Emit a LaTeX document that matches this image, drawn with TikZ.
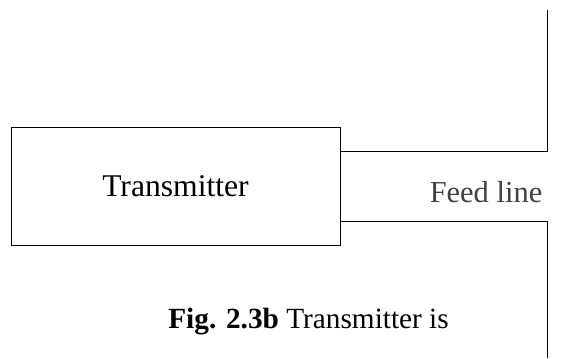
\documentclass[tikz,border=0pt]{standalone}
\usepackage{fontspec}
\setmainfont{Liberation Serif}
\usetikzlibrary{positioning}

\begin{document}
\begin{tikzpicture}[x=0.03cm,y=-0.03cm,
        ligne/.style={line width=0.8pt},
        texte/.style={inner sep=0pt}]
        \useasboundingbox (0,0) rectangle (569,358);

        % Emetteur
        \node[draw, ligne, minimum width=9.87cm, minimum height=3.54cm, texte,
              font=\fontsize{27}{30}\selectfont] (tx) at (175.5,186) {Transmitter};

        % Ligne d'alimentation
        \coordinate (hautA) at (tx.east |- 0,151);
        \coordinate (basA) at (tx.east |- 0,221);
        \coordinate (hautB) at (547,151);
        \coordinate (basB) at (547,221);
        \coordinate (sommet) at (547,10);
        \coordinate (pied) at (547,358);
        \draw[ligne] (hautA) -- (hautB) -- (sommet);
        \draw[ligne] (basA) -- (basB) -- (pied);

        % Labels
        \node[texte, text=black!75, font=\fontsize{26}{29}\selectfont] (feed) at (486,192) {Feed line};
        \node[texte, anchor=east, font=\fontsize{25}{28}\selectfont] (legende) at (449,322) {\textbf{Fig. 2.3b} Transmitter is};

    \end{tikzpicture}
\end{document}
